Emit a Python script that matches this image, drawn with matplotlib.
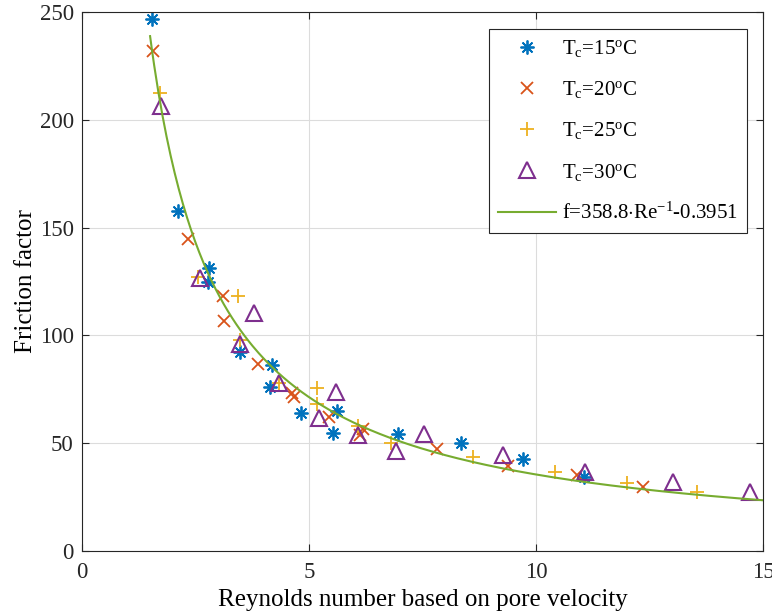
import numpy as np
import matplotlib
matplotlib.use("Agg")
import matplotlib.pyplot as plt

plt.rcParams["font.family"] = "Liberation Serif"
plt.rcParams["mathtext.fontset"] = "custom"
plt.rcParams["mathtext.rm"] = "Liberation Serif"
plt.rcParams["mathtext.it"] = "Liberation Serif:italic"

# Tc = 15 C
re_15 = [1.54, 2.11, 2.80, 2.78, 3.48, 4.18, 4.14, 4.82, 5.61, 5.52, 6.97, 8.35, 9.71, 11.06]
f_15 = [246.8, 157.7, 131.3, 124.8, 92.3, 86.3, 76.2, 63.9, 65.1, 54.9, 54.1, 49.9, 42.5, 34.5]

# Tc = 20 C
re_20 = [1.57, 2.33, 3.10, 3.13, 3.88, 4.62, 4.66, 5.43, 6.18, 6.12, 7.81, 9.39, 10.90, 12.36]
f_20 = [231.9, 144.6, 118.4, 106.7, 86.6, 73.5, 71.5, 62.3, 56.4, 53.8, 47.3, 39.6, 35.3, 29.8]

# Tc = 25 C
re_25 = [1.72, 2.56, 3.44, 3.48, 4.35, 5.17, 5.17, 6.07, 6.81, 8.62, 10.42, 12.00, 13.55]
f_25 = [212.6, 127.2, 118.4, 97.9, 77.8, 75.8, 68.2, 58.1, 50.0, 43.5, 36.8, 31.7, 27.5]

# Tc = 30 C
re_30 = [1.73, 2.61, 3.79, 3.48, 4.35, 5.59, 5.21, 6.09, 6.92, 7.53, 9.28, 11.08, 13.01, 14.71]
f_30 = [206.4, 126.5, 110.5, 95.9, 77.8, 73.9, 61.8, 53.8, 46.5, 54.1, 44.5, 36.5, 31.8, 27.5]

# fitted curve f = a/Re + b
fit_a = 358.8
fit_b = -0.3951
re_fit = np.linspace(1.5, 15, 300)
f_fit = fit_a / re_fit + fit_b

fig = plt.figure(figsize=(7.72, 6.15), dpi=100)
ax = fig.add_axes([0.1062, 0.1041, 0.8821, 0.8764])

ax.plot(re_15, f_15, linestyle="none", marker=(8, 2, 0), markersize=10,
        markeredgewidth=1.3, color="#0072BD", label=r"T$_{\mathrm{c}}$=15$^{\mathrm{o}}$C")
ax.plot(re_20, f_20, linestyle="none", marker="x", markersize=8,
        markeredgewidth=1.3, color="#D95319", label=r"T$_{\mathrm{c}}$=20$^{\mathrm{o}}$C")
ax.plot(re_25, f_25, linestyle="none", marker="+", markersize=10,
        markeredgewidth=1.3, color="#EDB120", label=r"T$_{\mathrm{c}}$=25$^{\mathrm{o}}$C")
ax.plot(re_30, f_30, linestyle="none", marker="^", markersize=11,
        markeredgewidth=1.5, markerfacecolor="none", color="#7E2F8E",
        label=r"T$_{\mathrm{c}}$=30$^{\mathrm{o}}$C")
ax.plot(re_fit, f_fit, color="#77AC30", linewidth=1.5,
        label=r"f=358.8$\cdot$Re$^{-1}$-0.3951")

ax.set_xlim(0, 15)
ax.set_ylim(0, 250)
ax.set_xticks([0, 5, 10, 15])
ax.set_yticks([0, 50, 100, 150, 200, 250])
ax.grid(True, color="#dcdcdc", linewidth=0.8)
ax.set_axisbelow(True)
ax.tick_params(direction="in", top=True, right=True, labelsize=16.5,
               colors="#262626", length=5, pad=6)
ax.tick_params(axis="x", pad=8)
for s in ax.spines.values():
    s.set_color("#262626")
    s.set_linewidth(0.8)

ax.set_xlabel("Reynolds number based on pore velocity", fontsize=18, labelpad=4)
ax.set_ylabel("Friction factor", fontsize=18, labelpad=2)

leg = ax.legend(loc="upper right", bbox_to_anchor=(0.977, 0.969), borderaxespad=0,
                fancybox=False, framealpha=1, edgecolor="#262626", fontsize=15,
                handlelength=2.75, handletextpad=0.3, labelspacing=0.97, borderpad=0.45)
leg.get_frame().set_linewidth(0.8)

fig.savefig("out.png", dpi=100)
